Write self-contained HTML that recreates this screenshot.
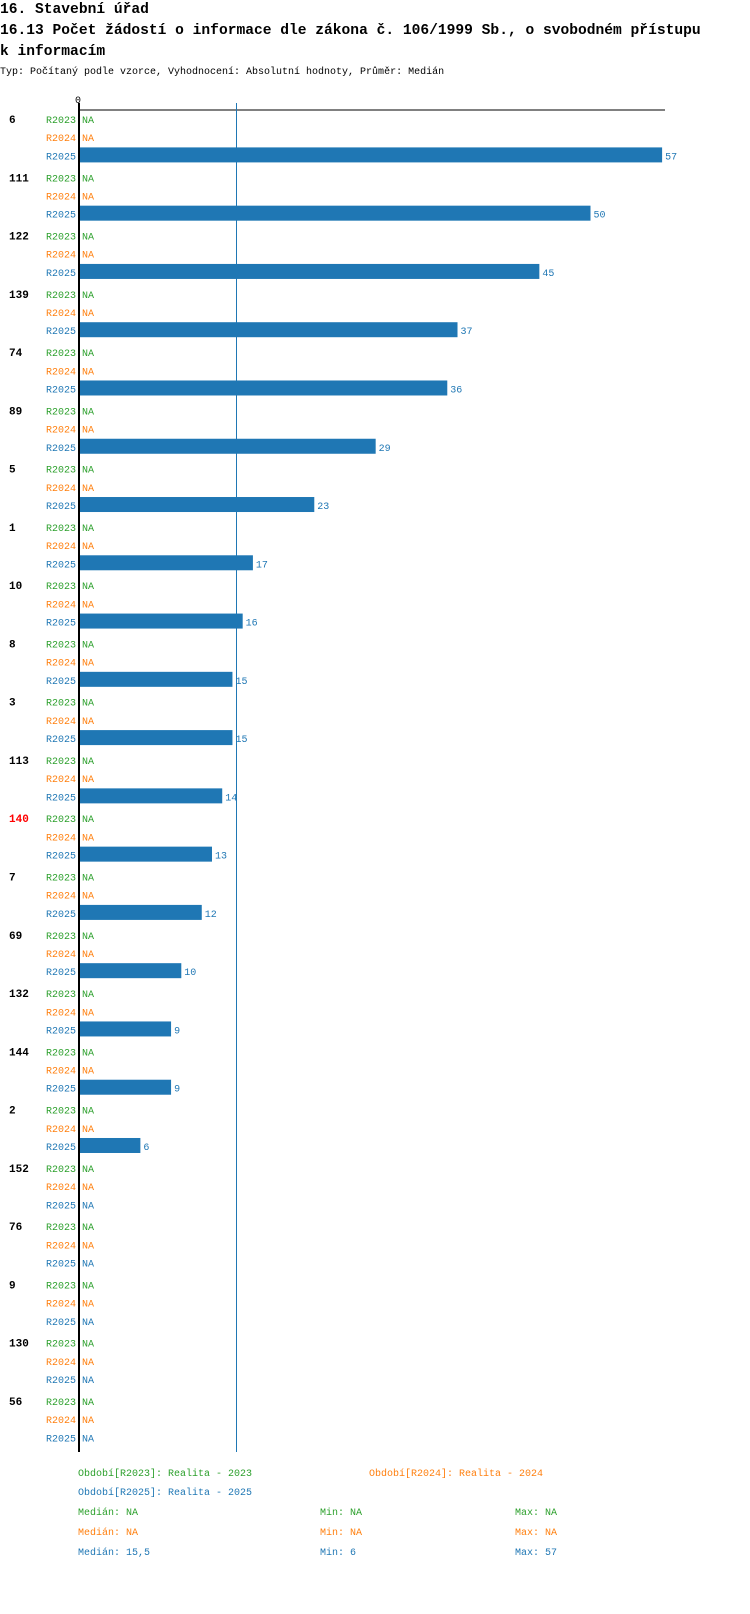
<!DOCTYPE html>
<html><head><meta charset="utf-8"><style>
body{margin:0;background:#fff;}
svg{display:block;font-family:"Liberation Mono",monospace;}
</style></head><body>
<svg id="chart" width="750" height="1614" xmlns="http://www.w3.org/2000/svg">
<text x="0" y="13" font-size="14.6" font-weight="bold">16. Stavební úřad</text>
<text x="0" y="34" font-size="14.6" font-weight="bold">16.13 Počet žádostí o informace dle zákona č. 106/1999 Sb., o svobodném přístupu</text>
<text x="0" y="55" font-size="14.6" font-weight="bold">k informacím</text>
<text x="0" y="74" font-size="10">Typ: Počítaný podle vzorce, Vyhodnocení: Absolutní hodnoty, Průměr: Medián</text>
<g id="plot"></g>
<g id="legend" font-size="10">
<text x="78" y="1476" fill="#2ca02c">Období[R2023]: Realita - 2023</text>
<text x="369" y="1476" fill="#ff7f0e">Období[R2024]: Realita - 2024</text>
<text x="78" y="1495" fill="#1f77b4">Období[R2025]: Realita - 2025</text>
<text x="78" y="1515" fill="#2ca02c">Medián: NA</text>
<text x="320" y="1515" fill="#2ca02c">Min: NA</text>
<text x="515" y="1515" fill="#2ca02c">Max: NA</text>
<text x="78" y="1535" fill="#ff7f0e">Medián: NA</text>
<text x="320" y="1535" fill="#ff7f0e">Min: NA</text>
<text x="515" y="1535" fill="#ff7f0e">Max: NA</text>
<text x="78" y="1555" fill="#1f77b4">Medián: 15,5</text>
<text x="320" y="1555" fill="#1f77b4">Min: 6</text>
<text x="515" y="1555" fill="#1f77b4">Max: 57</text>
</g>
</svg>
<script>
const categories=["6","111","122","139","74","89","5","1","10","8","3","113","140","7","69","132","144","2","152","76","9","130","56"];
const values2023=[null,null,null,null,null,null,null,null,null,null,null,null,null,null,null,null,null,null,null,null,null,null,null];
const values2024=[null,null,null,null,null,null,null,null,null,null,null,null,null,null,null,null,null,null,null,null,null,null,null];
const values2025=[57,50,45,37,36,29,23,17,16,15,15,14,13,12,10,9,9,6,null,null,null,null,null];
const highlighted=["140"];
const medianValue=15.5;

const NS="http://www.w3.org/2000/svg";
const plot=document.getElementById('plot');
const x0=79, kx=10.23, y0=119, step=58.27;
const xs=v=>x0+v*kx;
const ys=i=>y0+i*step;
function mk(tag,attrs,txt){const e=document.createElementNS(NS,tag);for(const k in attrs)e.setAttribute(k,attrs[k]);if(txt!=null)e.textContent=txt;plot.appendChild(e);return e;}
const colors=["#2ca02c","#ff7f0e","#1f77b4"];
const series=[values2023,values2024,values2025];
const names=["R2023","R2024","R2025"];
categories.forEach((c,i)=>{
  const y=ys(i);
  const lab=mk('text',{x:9,y:y+4,'font-size':11,'font-weight':'bold',fill:highlighted.includes(c)?'#f00':'#000'},c);
  
  
  series.forEach((s,j)=>{
    const yy=y+j*18.2;
    const t=mk('text',{x:76,y:yy+4,'font-size':10,fill:colors[j],'text-anchor':'end'},names[j]);
    
    
    const v=s[i];
    if(v==null){
      const n=mk('text',{x:82,y:yy+4,'font-size':10,fill:colors[j]},'NA');
      
      
    } else {
      const b=mk('rect',{x:x0,y:yy-8,width:xs(v)-x0,height:15,fill:colors[j]});
      
      
      const vt=mk('text',{x:xs(v)+3,y:yy+4,'font-size':10,fill:colors[j]},String(v));
      
      
    }
  });
});
const topAxis=mk('line',{x1:x0,y1:110,x2:665,y2:110,stroke:'#000','stroke-width':1});


const zeroAxis=mk('line',{x1:x0,y1:103,x2:x0,y2:1452,stroke:'#000','stroke-width':2});


const zeroLbl=mk('text',{x:x0-1,y:103,'font-size':10,'text-anchor':'middle'},'0');


const medX=Math.round(xs(medianValue))-1.5;
const med=mk('line',{x1:medX,y1:103,x2:medX,y2:1452,stroke:'#1f77b4','stroke-width':1});


</script>
</body></html>
